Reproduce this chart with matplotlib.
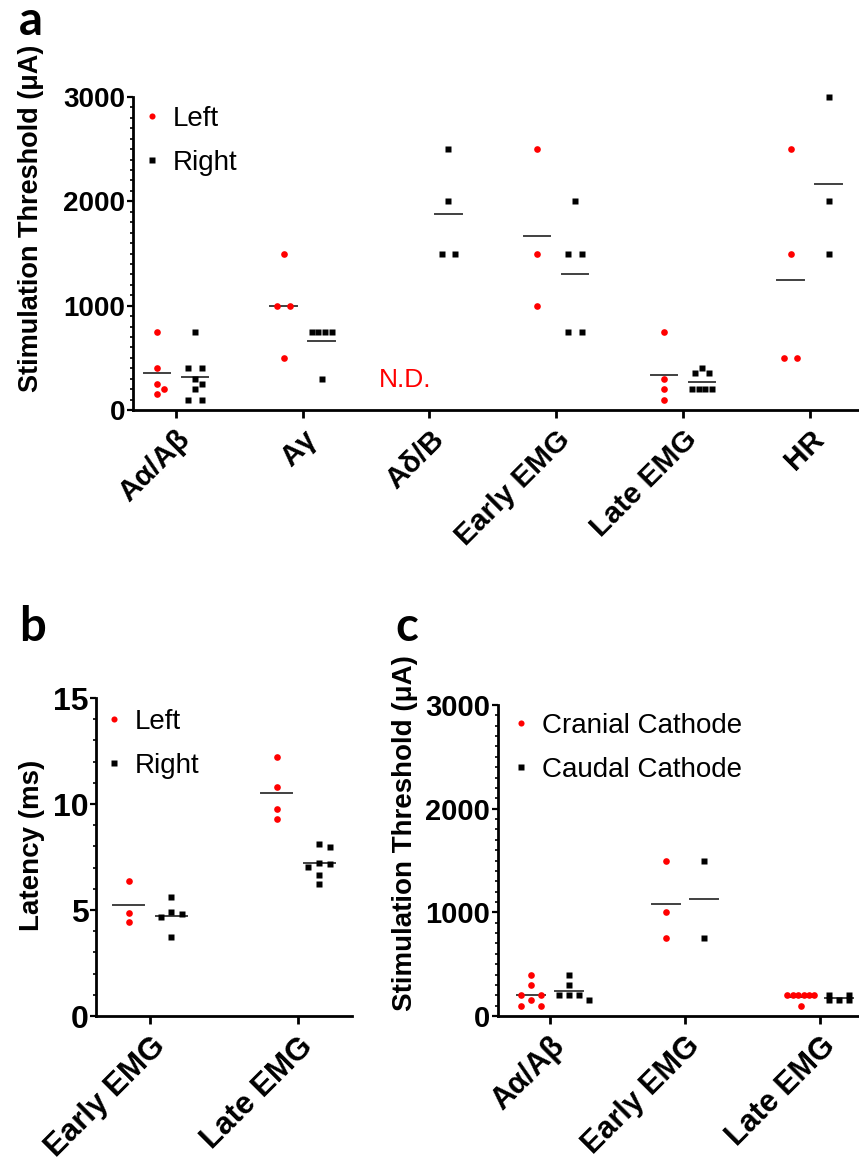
import numpy as np
import matplotlib.pyplot as plt
from matplotlib.ticker import MultipleLocator

plt.rcParams['font.family'] = ['Liberation Sans', 'DejaVu Sans']

# ---- data ----
cats_a = ['Aα/Aβ', 'Aγ', 'Aδ/B', 'Early EMG', 'Late EMG', 'HR']
left_a = [[750, 400, 250, 200, 150],
          [1500, 1000, 1000, 500],
          [],
          [2500, 1500, 1000],
          [750, 300, 200, 100],
          [2500, 1500, 500, 500]]
right_a = [[750, 400, 400, 300, 250, 200, 100, 100],
           [750, 750, 750, 750, 300],
           [2500, 2000, 1500, 1500],
           [2000, 1500, 1500, 750, 750],
           [400, 350, 350, 200, 200, 200, 200],
           [3000, 2000, 1500]]

cats_b = ['Early EMG', 'Late EMG']
left_b = [[6.38, 4.84, 4.42],
          [12.23, 10.82, 9.76, 9.28]]
right_b = [[5.63, 4.90, 4.80, 4.66, 3.71],
           [8.10, 7.99, 7.20, 7.15, 7.05, 6.65, 6.23]]

cats_c = ['Aα/Aβ', 'Early EMG', 'Late EMG']
cranial_c = [[400, 300, 200, 200, 150, 100, 100],
             [1500, 1000, 750],
             [200, 200, 200, 200, 200, 200, 100]]
caudal_c = [[400, 300, 200, 200, 200, 150],
            [1500, 750],
            [200, 200, 150, 150, 150]]

W, H = 859, 1163
fig = plt.figure(figsize=(W / 100, H / 100), dpi=100)


def axpx(l, t, r, b):
    # axes from pixel box
    return fig.add_axes([l / W, 1 - b / H, (r - l) / W, (b - t) / H])


def swarm(vals, step, ppu, gap=6.0, spread=0.2):
    # simple column scatter: ties spread symmetrically, others pushed aside on overlap
    vals = sorted(vals, reverse=True)
    xs, ys = [], []
    i = 0
    while i < len(vals):
        n = vals.count(vals[i])
        if n == 1:
            cands = [0.0]
            for j in range(1, 8):
                cands += [j * step, -j * step]
            for c in cands:
                ok = all(not (abs(c - x) < 0.99 * step and abs(vals[i] - y) * ppu < gap)
                         for x, y in zip(xs, ys))
                if ok:
                    break
            xs.append(c)
            ys.append(vals[i])
        else:
            s = 2 * step if n == 2 else min(step, spread / (n - 1))
            for j in range(n):
                xs.append((j - (n - 1) / 2) * s)
                ys.append(vals[i])
        i += n
    return np.array(xs), np.array(ys)


def draw(ax, g1, g2, off, step, ppu):
    for i in range(len(g1)):
        for vals, sgn, mk, col, ms in [(g1[i], -1, 'o', 'red', 4.8), (g2[i], 1, 's', 'black', 4.4)]:
            if len(vals) == 0:
                continue
            dx, y = swarm(vals, step, ppu)
            xc = i + sgn * off
            ax.plot([xc - 0.105, xc + 0.105], [np.mean(vals)] * 2, color='#404040', lw=1.4, zorder=2)
            ax.plot(xc + dx, y, ls='none', marker=mk, color=col, ms=ms, mec='none', zorder=3,
                    clip_on=False)


def style(ax, cats, ymax, major, minor, ysize, xsize):
    for s in ['top', 'right']:
        ax.spines[s].set_visible(False)
    for s in ['left', 'bottom']:
        ax.spines[s].set_linewidth(2.0)
    ax.set_ylim(0, ymax)
    ax.yaxis.set_major_locator(MultipleLocator(major))
    ax.yaxis.set_minor_locator(MultipleLocator(minor))
    ax.tick_params(axis='y', which='major', length=4.5, width=1.6, pad=1, labelsize=ysize)
    ax.tick_params(axis='y', which='minor', length=2.5, width=1.2)
    ax.tick_params(axis='x', which='major', length=6, width=2.0, pad=5)
    for lab in ax.get_yticklabels():
        lab.set_fontweight('bold')
    ax.set_xticks(range(len(cats)))
    ax.set_xticklabels(cats, rotation=45, ha='right', va='top', rotation_mode='anchor',
                       fontsize=xsize, fontweight='bold')


def legend(ax, labels, x, y):
    h1, = ax.plot([], [], ls='none', marker='o', color='red', ms=4.4, mec='none')
    h2, = ax.plot([], [], ls='none', marker='s', color='black', ms=4.0, mec='none')
    ax.legend([h1, h2], labels, loc='upper left', bbox_to_anchor=(x / W, 1 - y / H),
              bbox_transform=fig.transFigure, frameon=False, fontsize=20,
              handlelength=0.6, handletextpad=0.45, labelspacing=0.64,
              borderpad=0, borderaxespad=0)


# ---- panel a ----
ax_a = axpx(133, 97, 859, 410)
draw(ax_a, left_a, right_a, 0.15, 0.053, 313 / 3000)
ax_a.set_xlim(-0.34, 5.39)
style(ax_a, cats_a, 3000, 1000, 100, 20, 21.5)
ax_a.text(2 - 0.19, 290, 'N.D.', color='red', fontsize=19, ha='center', va='center')
legend(ax_a, ['Left', 'Right'], 144, 106)

# ---- panel b ----
ax_b = axpx(96, 698, 352, 1016)
draw(ax_b, left_b, right_b, 0.143, 0.072, 318 / 15)
ax_b.set_xlim(-0.366, 1.366)
style(ax_b, cats_b, 15, 5, 1, 23, 22.5)
legend(ax_b, ['Left', 'Right'], 106, 709)

# ---- panel c ----
ax_c = axpx(498, 705, 859, 1016)
draw(ax_c, cranial_c, caudal_c, 0.14, 0.075, 311 / 3000)
ax_c.set_xlim(-0.385, 2.29)
style(ax_c, cats_c, 3000, 1000, 100, 21, 22)
legend(ax_c, ['Cranial Cathode', 'Caudal Cathode'], 513, 713)

# axis titles and panel letters
fig.text(31 / W, 1 - 218 / H, 'Stimulation Threshold (μA)', rotation=90, ha='center', va='center',
         fontsize=19.5, fontweight='bold')
fig.text(32 / W, 1 - 845 / H, 'Latency (ms)', rotation=90, ha='center', va='center',
         fontsize=20, fontweight='bold')
fig.text(405 / W, 1 - 833 / H, 'Stimulation Threshold (μA)', rotation=90, ha='center', va='center',
         fontsize=20, fontweight='bold')
for s, x, y in [('a', 31, 35), ('b', 32, 641), ('c', 407, 641)]:
    fig.text(x / W, 1 - y / H, s, fontsize=34, fontweight='bold', family='Lato',
             ha='center', va='baseline')

fig.savefig('out.png', dpi=100)
